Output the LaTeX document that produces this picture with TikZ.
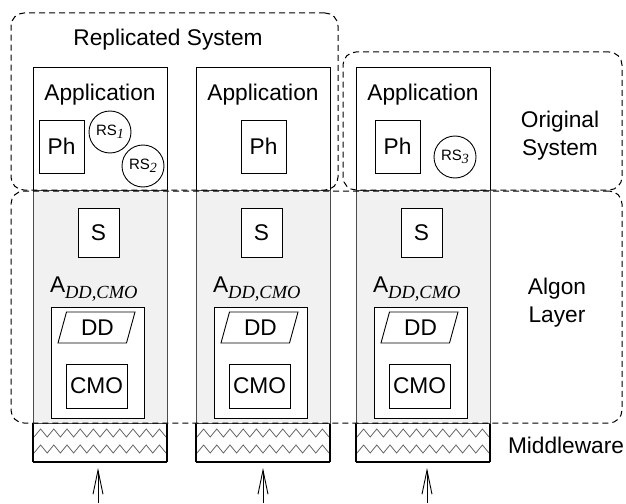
\documentclass[tikz,border=0pt]{standalone}
\usepackage{fontspec}
\setmainfont{Liberation Sans}
\newfontfamily\tms{Liberation Serif}
\usetikzlibrary{arrows.meta}
\definecolor{layergray}{HTML}{F1F1F1}
\tikzset{
  lbl/.style={inner sep=0pt, outer sep=0pt, font=\fontsize{22.7}{28}\selectfont},
  small/.style={inner sep=0pt, font=\fontsize{15}{17}\selectfont},
  box/.style={draw=black, line width=0.9pt, inner sep=0pt, outer sep=0pt, fill=white},
  graybox/.style={draw=black!70, line width=1pt, fill=layergray, inner sep=0pt, outer sep=0pt},
  rsnode/.style={draw=black, circle, line width=0.9pt, minimum size=42pt, inner sep=0pt, fill=white},
  mwbox/.style={draw=none, fill=white, inner sep=0pt, outer sep=0pt},
  mwedge/.style={draw=black, line width=1.1pt},
  zig/.style={draw=black!60, line width=0.8pt},
  region/.style={draw=black, dashed, dash pattern=on 6pt off 4pt, line width=1pt, rounded corners=13pt, inner sep=0pt, outer sep=0pt},
  arr/.style={draw=black, line width=0.9pt, -{Straight Barb[length=24pt,width=10pt]}},
}
\newcommand{\subit}[1]{{\tms\itshape #1}}
\begin{document}
\begin{tikzpicture}[x=1pt,y=-1pt]
\useasboundingbox (0,0) rectangle (626,503);

% columns
\foreach \i/\L/\ph in {1/33/6, 2/196/45, 3/356/19} {
  % application box
  \node[box, minimum width=134pt, minimum height=123pt] (app\i) at (\L+67,128.5) {};
  \node[lbl] (apptxt\i) at (\L+67,95) {Application};
  \node[box, minimum width=45pt, minimum height=53pt] (ph\i) at (\L+\ph+22.5,146.5) {};
  \node[lbl] (phtxt\i) at (\L+\ph+22.5,146.5) {Ph};
  % middleware (drawn before the layer so the layer's grey edge sits on top)
  \node[mwbox, minimum width=134pt, minimum height=39pt] (mw\i) at (\L+67,442.5) {};
  \draw[zig] (\L+1,437) \foreach \k in {1,...,10} { -- ++(6.6,-8) -- ++(6.6,8) };
  \draw[zig] (\L+1,453) \foreach \k in {1,...,10} { -- ++(6.6,-8) -- ++(6.6,8) };
  \draw[mwedge] (mw\i.north west) -- (mw\i.south west);
  \draw[mwedge] (mw\i.north east) -- (mw\i.south east);
  \draw[line width=1.8pt] (mw\i.south west) -- (mw\i.south east);
  % algon layer column
  \node[graybox, minimum width=134pt, minimum height=233pt] (alg\i) at (\L+67,306.5) {};
  \node[box, minimum width=41pt, minimum height=49pt] (s\i) at (\L+65.5,232.5) {};
  \node[lbl] (stxt\i) at (\L+65.5,232.5) {S};
  \node[lbl, anchor=base west] (a\i) at (\L+17,292) {A\raisebox{-6pt}{\fontsize{18.5}{20}\selectfont\subit{DD,CMO}}};
  \node[box, minimum width=93pt, minimum height=111pt] (inner\i) at (\L+64.5,362.5) {};
  \draw[line width=0.9pt, fill=white] (\L+25,343) -- (\L+33.5,312) -- (\L+102,312) -- (\L+93.5,343) -- cycle;
  \node[lbl] (dd\i) at (\L+64.5,327.5) {DD};
  \node[box, minimum width=61pt, minimum height=44pt] (cmo\i) at (\L+63.5,386) {};
  \node[lbl] (cmotxt\i) at (\L+63.5,386) {CMO};
}

% incoming arrows
\coordinate (src1) at (98,503);
\coordinate (tip1) at (98,468);
\coordinate (src2) at (263,503);
\coordinate (tip2) at (263,468);
\coordinate (src3) at (427,503);
\coordinate (tip3) at (427,468);
\draw[arr] (src1) -- (tip1);
\draw[arr] (src2) -- (tip2);
\draw[arr] (src3) -- (tip3);

% replica state circles
\node[rsnode] (rs1) at (110,132) {};
\node[small] at (rs1) {RS\raisebox{-3.5pt}{\fontsize{14}{15}\selectfont\subit{1}}};
\node[rsnode] (rs2) at (143,166) {};
\node[small] at (rs2) {RS\raisebox{-3.5pt}{\fontsize{14}{15}\selectfont\subit{2}}};
\node[rsnode] (rs3) at (455,157) {};
\node[small] at (rs3) {RS\raisebox{-3.5pt}{\fontsize{14}{15}\selectfont\subit{3}}};

% dashed regions
\node[region, minimum width=327pt, minimum height=177pt] (rep) at (174.5,101.5) {};
\node[region, minimum width=279pt, minimum height=138pt] (orig) at (482.5,121) {};
\node[region, minimum width=611pt, minimum height=232pt] (algon) at (316.5,307) {};

% labels
\node[lbl] (reptxt) at (168,40) {Replicated System};
\node[lbl, align=center] (origtxt) at (560,136) {Original\\System};
\node[lbl, align=center] (algtxt) at (557,303) {Algon\\Layer};
\node[lbl, anchor=west] (mwtxt) at (508,445.5) {Middleware};
\end{tikzpicture}
\end{document}
